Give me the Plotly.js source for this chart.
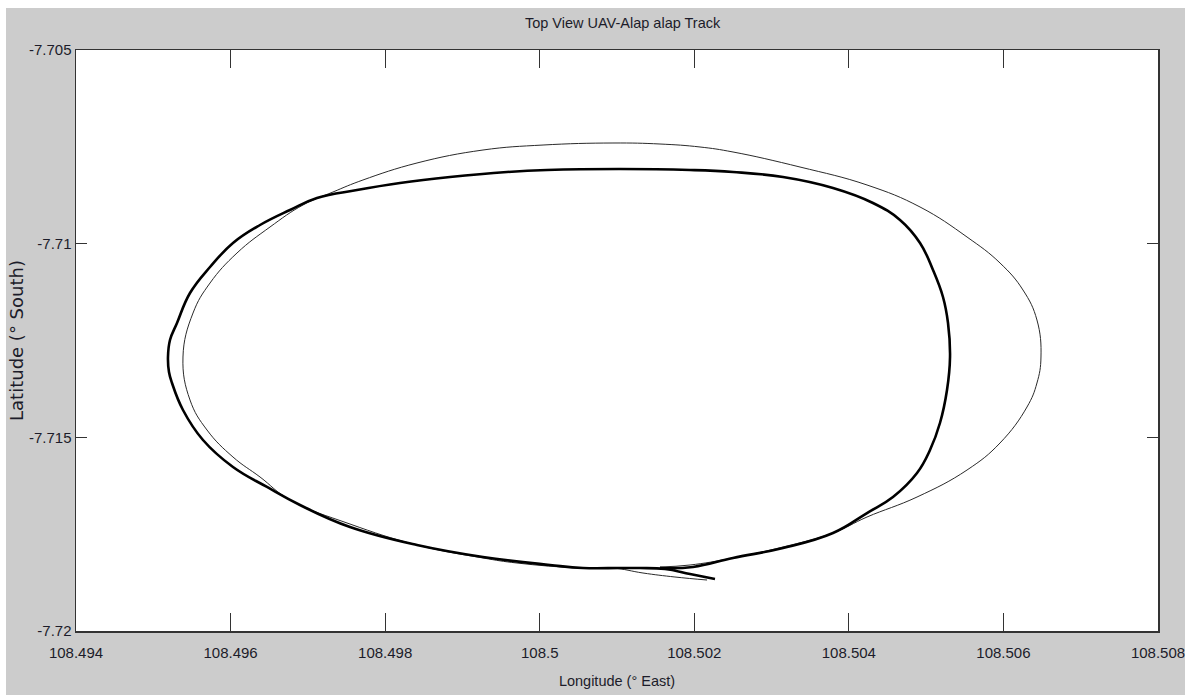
<!DOCTYPE html>
<html>
<head>
<meta charset="utf-8">
<script src="https://cdn.plot.ly/plotly-3.0.1.min.js"></script>
<style>
html,body{margin:0;padding:0;background:#ffffff;}
#chart{position:absolute;left:6px;top:8px;width:1179px;height:687px;}
</style>
</head>
<body>
<div id="chart"></div>
<script>
// Reference (planned) track, thin line
const refLon = [108.502165,108.501750,108.501336,108.500948,108.500521,108.499706,108.499266,108.498412,108.497545,108.496769,
  108.496381,108.496031,108.495695,108.495475,108.495384,108.495514,108.495734,108.496083,108.496510,108.496937,
  108.497325,108.497713,108.498412,108.499266,108.500043,108.500948,108.501556,108.502074,108.502501,108.503368,108.504235,
  108.504921,108.505529,108.505956,108.506253,108.506434,108.506486,108.506434,108.506305,108.505956,108.505529,
  108.504882,108.504235,108.503795,108.503148,108.502501,108.501945,108.501556];
const refLat = [-7.718684,-7.718606,-7.718503,-7.718374,-7.718374,-7.718245,-7.718115,-7.717780,-7.717238,-7.716618,
  -7.716024,-7.715508,-7.714811,-7.714036,-7.712926,-7.711790,-7.711016,-7.710241,-7.709570,-7.709002,
  -7.708666,-7.708356,-7.707917,-7.707582,-7.707453,-7.707401,-7.707427,-7.707504,-7.707633,-7.708021,-7.708485,
  -7.709053,-7.709828,-7.710499,-7.711196,-7.711971,-7.712926,-7.713597,-7.714217,-7.715146,-7.715844,
  -7.716541,-7.717057,-7.717470,-7.717831,-7.718115,-7.718296,-7.718348];

// Actual UAV track, thick line
const uavLon = [108.502268,108.501945,108.501621,108.501298,108.501039,108.500560,108.500133,108.499266,108.498412,108.497545,
  108.496898,108.496471,108.496031,108.495643,108.495384,108.495242,108.495203,108.495190,108.495216,108.495307,108.495475,108.495734,
  108.496031,108.496381,108.496769,108.497118,108.497636,108.498192,108.498839,108.499577,108.500094,108.501039,
  108.501945,108.502501,108.503148,108.503795,108.504312,108.504662,108.504921,108.505089,108.505218,108.505283,
  108.505309,108.505270,108.505179,108.505050,108.504882,108.504571,108.504235,108.503795,108.503148,108.502501,
  108.501983,108.501556];
const uavLat = [-7.718658,-7.718529,-7.718400,-7.718374,-7.718374,-7.718374,-7.718296,-7.718090,-7.717780,-7.717315,
  -7.716747,-7.716282,-7.715766,-7.715069,-7.714294,-7.713597,-7.713313,-7.712926,-7.712487,-7.712048,-7.711274,-7.710603,
  -7.709983,-7.709518,-7.709131,-7.708821,-7.708615,-7.708434,-7.708279,-7.708150,-7.708098,-7.708072,
  -7.708098,-7.708150,-7.708279,-7.708563,-7.708950,-7.709389,-7.709983,-7.710680,-7.711377,-7.712048,
  -7.712926,-7.713778,-7.714630,-7.715327,-7.715921,-7.716541,-7.716954,-7.717470,-7.717857,-7.718115,
  -7.718348,-7.718374];

const xTickVals = [108.494,108.496,108.498,108.5,108.502,108.504,108.506,108.508];
const xTickText = ["108.494","108.496","108.498","108.5","108.502","108.504","108.506","108.508"];
const yTickVals = [-7.705,-7.71,-7.715,-7.72];
const yTickText = ["-7.705","-7.71","-7.715","-7.72"];

const font1 = "Liberation Sans, Arial, sans-serif";
const txtColor = "#1c1c2a";

const traces = [
  {x: refLon, y: refLat, type: "scatter", mode: "lines",
   line: {color: "#2a2a2a", width: 1, shape: "spline", smoothing: 1.2}, hoverinfo: "skip"},
  {x: uavLon, y: uavLat, type: "scatter", mode: "lines",
   line: {color: "#000000", width: 2.6, shape: "spline", smoothing: 1.2}, hoverinfo: "skip"}
];

const layout = {
  width: 1179, height: 687,
  paper_bgcolor: "#cccccc", plot_bgcolor: "#ffffff",
  showlegend: false,
  margin: {l: 70, r: 27, t: 42, b: 64},
  title: {text: "Top View UAV-Alap alap Track", x: 0.523, xanchor: "center",
          y: 0.979, yanchor: "middle", yref: "container",
          font: {family: font1, size: 14.5, color: txtColor}},
  xaxis: {range: [108.4939999, 108.5080001], tickmode: "array", tickvals: xTickVals, ticktext: xTickText,
          ticks: "inside", ticklen: 18, tickcolor: "#333333", tickwidth: 1,
          showline: true, linecolor: "#333333", linewidth: 1.5, mirror: "ticks",
          showgrid: false, zeroline: false, automargin: false, ticklabelstandoff: 7,
          ticklabeloverflow: "allow",
          tickfont: {family: font1, size: 15, color: txtColor},
          title: {text: "Longitude (° East)", standoff: 16, font: {family: font1, size: 14.5, color: txtColor}}},
  yaxis: {range: [-7.7200001, -7.7049999], tickmode: "array", tickvals: yTickVals, ticktext: yTickText,
          ticks: "inside", ticklen: 11, tickcolor: "#333333", tickwidth: 1,
          showline: true, linecolor: "#333333", linewidth: 1.5, mirror: "ticks",
          showgrid: false, zeroline: false, automargin: false,
          tickfont: {family: font1, size: 15, color: txtColor},
          title: {text: "Latitude (° South)", standoff: 8, font: {family: "DejaVu Sans, sans-serif", size: 18, color: txtColor}}}
};

Plotly.newPlot("chart", traces, layout, {displayModeBar: false, staticPlot: true});
</script>
</body>
</html>
